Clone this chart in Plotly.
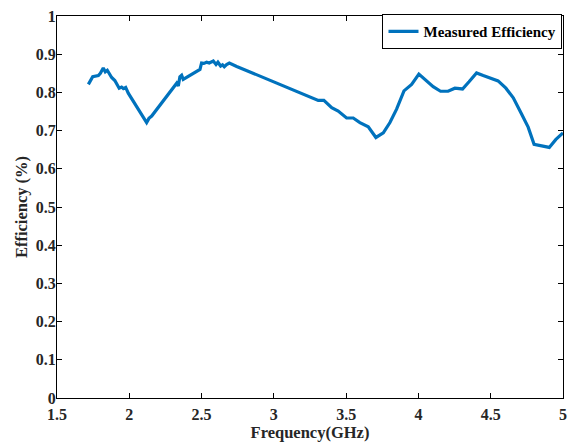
import plotly.graph_objects as go

freq = [1.717, 1.725, 1.747, 1.786, 1.80, 1.82, 1.834, 1.848, 1.862, 1.878, 1.90, 1.917, 1.93, 1.947,
        1.959, 1.975, 1.993, 2.12, 2.136, 2.155, 2.311, 2.328, 2.339, 2.35, 2.362, 2.373, 2.489,
        2.50, 2.516, 2.535, 2.553, 2.581, 2.60, 2.613, 2.632, 2.645, 2.657, 2.673, 2.692, 2.743,
        3.307, 3.346, 3.40, 3.445, 3.503, 3.549, 3.595, 3.653, 3.706, 3.757, 3.803, 3.849, 3.90,
        3.953, 4.003, 4.056, 4.102, 4.153, 4.205, 4.252, 4.305, 4.35, 4.402, 4.448, 4.505, 4.551,
        4.605, 4.656, 4.709, 4.759, 4.80, 4.852, 4.905, 4.951, 5.0]
eff = [0.821, 0.826, 0.841, 0.844, 0.85, 0.864, 0.854, 0.858, 0.85, 0.839, 0.831, 0.817, 0.811, 0.814,
       0.81, 0.813, 0.798, 0.721, 0.732, 0.738, 0.817, 0.824, 0.817, 0.841, 0.845, 0.834, 0.86,
       0.877, 0.876, 0.879, 0.877, 0.882, 0.873, 0.879, 0.869, 0.872, 0.867, 0.873, 0.877, 0.868,
       0.779, 0.779, 0.760, 0.751, 0.733, 0.733, 0.721, 0.710, 0.682, 0.694, 0.721, 0.756, 0.804,
       0.821, 0.848, 0.831, 0.815, 0.803, 0.803, 0.811, 0.809, 0.828, 0.851, 0.844, 0.837, 0.830,
       0.811, 0.786, 0.747, 0.709, 0.664, 0.660, 0.656, 0.677, 0.694]

x_ticks = [1.5, 2, 2.5, 3, 3.5, 4, 4.5, 5]
y_ticks = [0, 0.1, 0.2, 0.3, 0.4, 0.5, 0.6, 0.7, 0.8, 0.9, 1]

font_family = "Liberation Serif, Times New Roman, serif"

fig = go.Figure()
fig.add_trace(go.Scatter(x=freq, y=eff, mode="lines", name="<b>Measured Efficiency</b>",
                         line=dict(color="#0072BD", width=3.2)))

axis_common = dict(showline=True, linecolor="black", linewidth=1, mirror="ticks",
                   ticks="inside", ticklen=5, tickcolor="black", showgrid=False, zeroline=False,
                   tickfont=dict(family=font_family, size=16, color="#262626"))

fig.update_xaxes(range=[1.5, 5], tickvals=x_ticks, ticktext=[f"<b>{v:g}</b>" for v in x_ticks],
                 ticklabelstandoff=2,
                 title=dict(text="<b>Frequency(GHz)</b>", standoff=0,
                            font=dict(family=font_family, size=16.5, color="#262626")),
                 **axis_common)
fig.update_yaxes(range=[0, 1], tickvals=y_ticks, ticktext=[f"<b>{v:g}</b>" for v in y_ticks],
                 ticklabelstandoff=-3,
                 title=dict(text="<b>Efficiency (%)</b>", standoff=4,
                            font=dict(family=font_family, size=16.5, color="#262626")),
                 **axis_common)

fig.update_layout(
    width=575, height=447,
    margin=dict(l=57, r=12, t=8, b=49),
    plot_bgcolor="white", paper_bgcolor="white",
    font=dict(family=font_family, size=13, color="#262626"),
    showlegend=True,
    legend=dict(x=0.999, y=1.005, xanchor="right", yanchor="top",
                bordercolor="black", borderwidth=1, bgcolor="white",
                font=dict(family=font_family, size=15, color="black"),
                itemwidth=30, tracegroupgap=0),
)

fig.write_html("out.html")
